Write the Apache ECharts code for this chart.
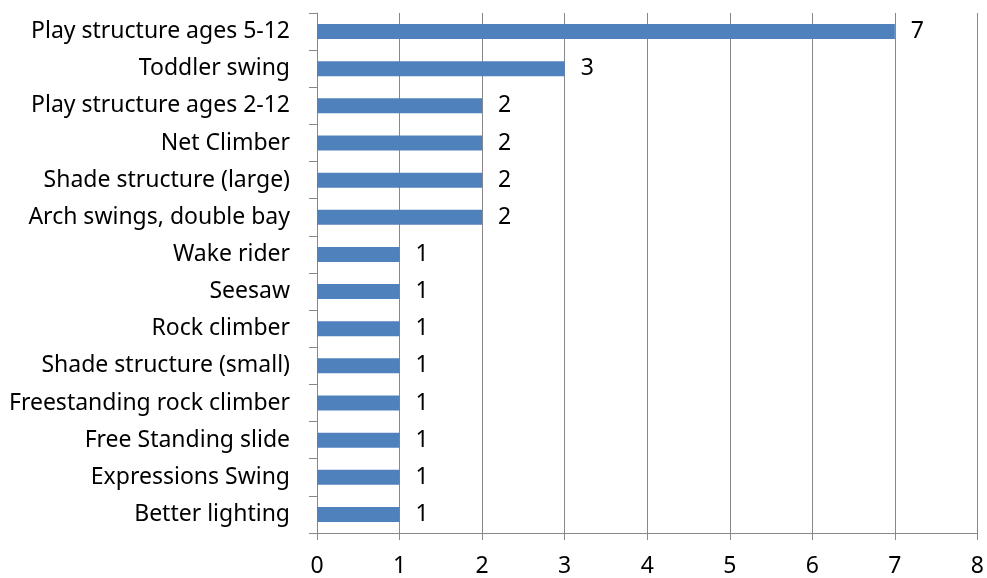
<!DOCTYPE html>
<html><head><meta charset="utf-8">
<script src="https://cdn.jsdelivr.net/npm/echarts@6/dist/echarts.min.js"></script>
<style>html,body{margin:0;padding:0;background:#fff}#c{width:987px;height:578px}</style>
</head><body><div id="c"></div>
<script>
const categories = ["Play structure ages 5-12","Toddler swing","Play structure ages 2-12","Net Climber","Shade structure (large)","Arch swings, double bay","Wake rider","Seesaw","Rock climber","Shade structure (small)","Freestanding rock climber","Free Standing slide","Expressions Swing","Better lighting"];
const values = [7,3,2,2,2,2,1,1,1,1,1,1,1,1];
const xTicks = [0,1,2,3,4,5,6,7,8];

const FONT = "Noto Sans";
const FS = 23;
const chart = echarts.init(document.getElementById('c'));
chart.setOption({
  animation: false,
  grid: {left: 317, right: 7, top: 13, bottom: 43, containLabel: false},
  xAxis: {
    type: 'value', min: xTicks[0], max: xTicks[xTicks.length-1], interval: 1,
    axisLine: {show: true, lineStyle: {color: '#888888', width: 1}},
    axisTick: {show: true, length: 7, lineStyle: {color: '#888888'}},
    splitLine: {show: true, lineStyle: {color: '#888888', width: 1}},
    axisLabel: {color: '#000', fontFamily: FONT, fontSize: FS, margin: 22}
  },
  yAxis: {
    type: 'category', data: categories, inverse: true,
    axisLine: {show: true, lineStyle: {color: '#888888', width: 1}},
    axisTick: {show: true, length: 8, lineStyle: {color: '#888888'}},
    axisLabel: {color: '#000', fontFamily: FONT, fontSize: FS, margin: 27}
  },
  series: [{
    type: 'bar', data: values, barWidth: 15,
    itemStyle: {color: '#4f81bd'},
    label: {show: true, position: 'right', distance: 16, color: '#000', fontFamily: FONT, fontSize: FS}
  }]
});
</script></body></html>
